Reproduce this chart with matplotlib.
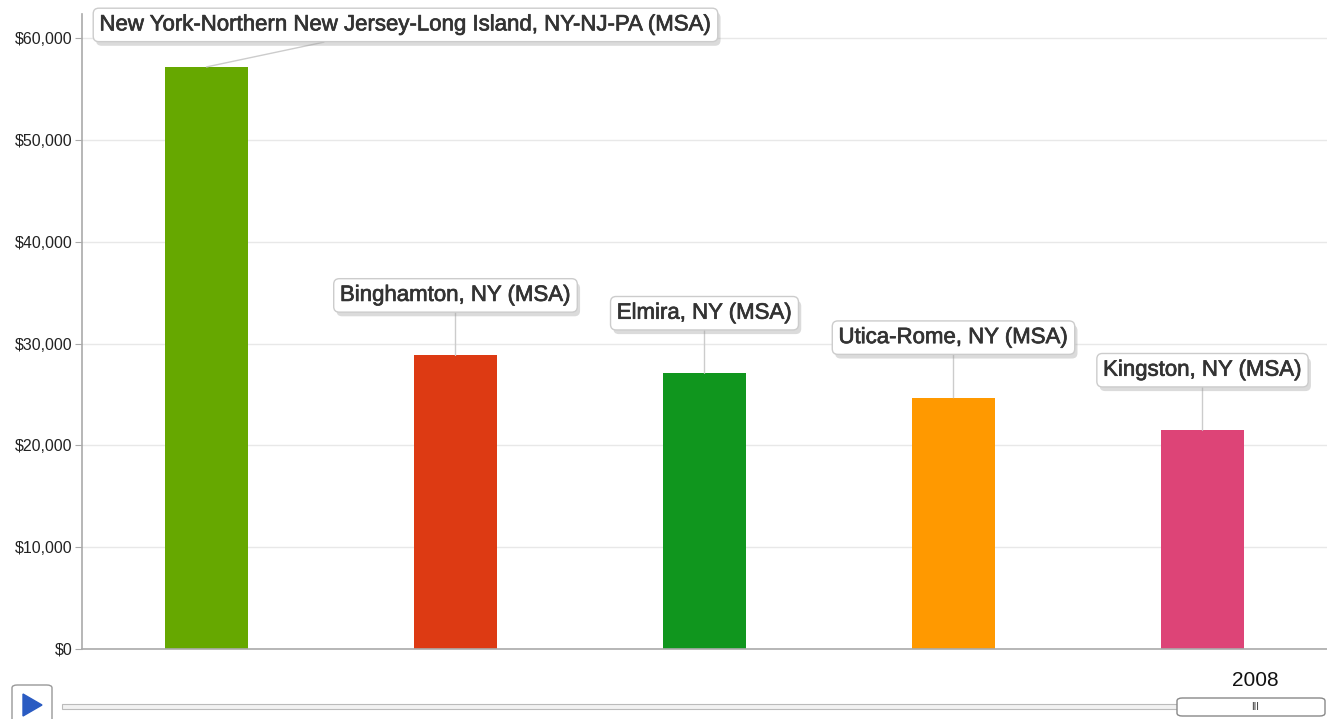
import matplotlib
matplotlib.use("Agg")
import matplotlib.pyplot as plt
from matplotlib.patches import FancyBboxPatch, Polygon, Rectangle
import matplotlib.patheffects as pe

categories = ["New York-Northern New Jersey-Long Island, NY-NJ-PA (MSA)",
              "Binghamton, NY (MSA)", "Elmira, NY (MSA)",
              "Utica-Rome, NY (MSA)", "Kingston, NY (MSA)"]
values = [57200, 28850, 27100, 24700, 21500]
colors = ["#66a800", "#dd3a13", "#10961e", "#ff9900", "#dd4477"]
yticks = [0, 10000, 20000, 30000, 40000, 50000, 60000]
ytick_labels = ["$0", "$10,000", "$20,000", "$30,000", "$40,000", "$50,000", "$60,000"]
year_label = "2008"

W, H = 1327, 719
fig = plt.figure(figsize=(W / 100, H / 100), dpi=100)
plt.rcParams['font.family'] = ['Liberation Sans', 'DejaVu Sans']

def fx(x):
    return x / W

def fy(y):
    return 1 - y / H

ax_left, ax_right, ax_top, ax_bottom = 82, 1327, 14, 649
ax = fig.add_axes([fx(ax_left), fy(ax_bottom), (ax_right - ax_left) / W, (ax_bottom - ax_top) / H])

xs = list(range(len(categories)))
ax.bar(xs, values, width=0.33, color=colors, zorder=2)
ax.set_xlim(-0.5, len(categories) - 0.5)
ax.set_ylim(0, 62400)
ax.set_yticks(yticks)
ax.set_yticklabels(ytick_labels, fontsize=11.5, color="#222222")
ax.set_xticks([])
ax.grid(axis="y", color="#e8e8e8", lw=1, zorder=0)
for s in ["top", "right"]:
    ax.spines[s].set_visible(False)
for s in ["left", "bottom"]:
    ax.spines[s].set_color("#aaaaaa")
    ax.spines[s].set_linewidth(1.2)
ax.tick_params(axis="y", length=5, color="#aaaaaa", pad=2)

offsets = [(199, 42), (0, 60), (0, 60), (0, 60), (0, 60)]
for x, v, lab, off in zip(xs, values, categories, offsets):
    t = ax.annotate(lab, xy=(x, v), xytext=off, textcoords="offset pixels",
                    ha="center", va="center", fontsize=16, color="#333333",
                    bbox=dict(boxstyle="round,pad=0.28,rounding_size=0.25",
                              fc="white", ec="#cccccc", lw=1),
                    arrowprops=dict(arrowstyle="-", color="#cccccc", lw=1,
                                    shrinkA=0, shrinkB=0),
                    zorder=5, annotation_clip=False)
    t.set_path_effects([pe.Stroke(linewidth=0.5, foreground="#333333"), pe.Normal()])
    t.get_bbox_patch().set_path_effects([
        pe.SimplePatchShadow(offset=(2, -3), shadow_rgbFace="#999999", alpha=0.35),
        pe.Normal()])

# Bottom controls
btn = FancyBboxPatch((fx(12), fy(722)), (52 - 12) / W, (722 - 685) / H,
                     boxstyle="round,pad=0,rounding_size=0.004",
                     transform=fig.transFigure, fc="white", ec="#999999", lw=1)
fig.add_artist(btn)
tri = Polygon([[fx(23), fy(694)], [fx(23), fy(716)], [fx(42), fy(705)]],
              closed=True, transform=fig.transFigure, fc="#2a5bc2", ec="#2a5bc2")
fig.add_artist(tri)
line = Rectangle((fx(62), fy(709)), (1178 - 62) / W, 5 / H, transform=fig.transFigure,
                 fc="#f2f2f2", ec="#bbbbbb", lw=0.8)
fig.add_artist(line)
handle = FancyBboxPatch((fx(1177), fy(716)), (1325 - 1177) / W, (716 - 698) / H,
                        boxstyle="round,pad=0,rounding_size=0.004",
                        transform=fig.transFigure, fc="white", ec="#888888", lw=1)
fig.add_artist(handle)
fig.text(fx(1255), fy(707), "III", ha="center", va="center", fontsize=7, color="#333333")
fig.text(fx(1255), fy(680), year_label, ha="center", va="center", fontsize=15, color="#111111")

fig.savefig("out.png", dpi=100)
